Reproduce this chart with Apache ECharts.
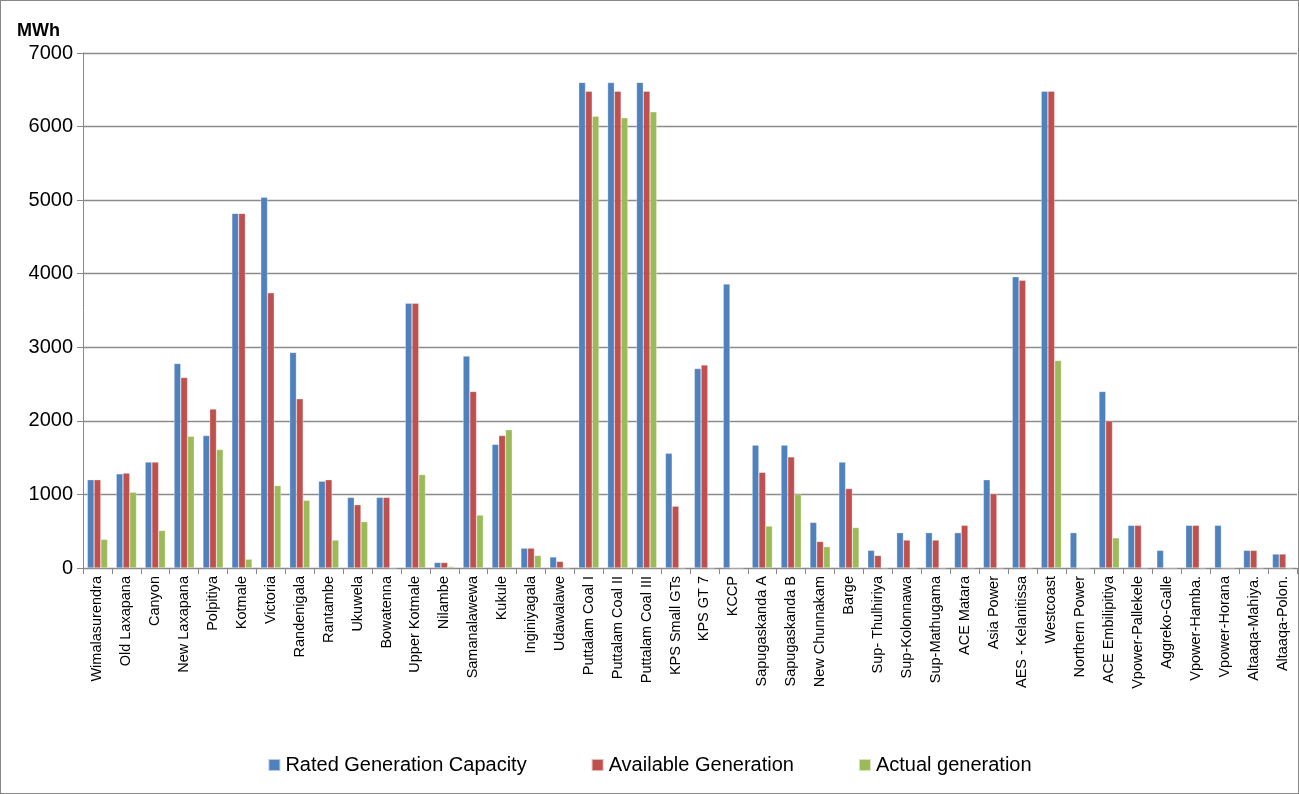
<!DOCTYPE html>
<html><head><meta charset="utf-8">
<script src="https://cdn.jsdelivr.net/npm/echarts@6/dist/echarts.min.js"></script>
<style>html,body{margin:0;padding:0;background:#fff}#c{width:1299px;height:794px;box-sizing:border-box;border:1px solid #888}</style>
</head><body><div id="c"></div>
<script>
const categories = ['Wimalasurendra','Old Laxapana','Canyon','New Laxapana','Polpitiya','Kotmale','Victoria','Randenigala','Rantambe','Ukuwela','Bowatenna','Upper Kotmale','Nilambe','Samanalawewa','Kukule','Inginiyagala','Udawalawe','Puttalam Coal I','Puttalam Coal II','Puttalam Coal III','KPS Small GTs','KPS GT 7','KCCP','Sapugaskanda A','Sapugaskanda B','New Chunnakam','Barge','Sup- Thulhiriya','Sup-Kolonnawa','Sup-Mathugama','ACE Matara','Asia Power','AES - Kelanitissa','Westcoast','Northern Power','ACE Embilipitiya','Vpower-Pallekele','Aggreko-Galle','Vpower-Hamba.','Vpower-Horana','Altaaqa-Mahiya.','Altaaqa-Polon.'];
const rated = [1200,1280,1440,2780,1800,4820,5040,2930,1180,960,960,3600,75,2880,1680,270,150,6600,6600,6600,1560,2710,3860,1670,1670,620,1440,240,480,480,480,1200,3960,6480,480,2400,580,240,580,580,240,190];
const available = [1200,1290,1440,2590,2160,4820,3740,2300,1200,860,960,3600,75,2400,1800,270,90,6480,6480,6480,840,2760,0,1300,1510,360,1080,170,380,380,580,1010,3910,6480,0,2000,580,0,580,0,240,190];
const actual = [390,1030,510,1790,1610,120,1120,920,380,630,0,1270,20,720,1880,170,0,6140,6120,6200,0,0,0,570,1000,290,550,0,0,0,0,0,0,2820,0,410,0,0,0,0,0,0];

const chart = echarts.init(document.getElementById('c'));
const font = 'Liberation Sans';
const bar = (name, data, color) => ({
  name, type: 'bar', data, barGap: '0%', barCategoryGap: '30%',
  itemStyle: { color, borderColor: 'rgba(255,255,255,0.6)', borderWidth: 0.5 }
});
chart.setOption({
  animation: false,
  textStyle: { fontFamily: font },
  title: { text: 'MWh', left: 11, top: 16, textStyle: { fontSize: 18, fontWeight: 'bold', color: '#000', fontFamily: font } },
  legend: {
    bottom: 13, left: 'center', itemWidth: 12, itemHeight: 12, itemGap: 64, icon: 'rect',
    textStyle: { fontSize: 20, color: '#000', fontFamily: font }
  },
  grid: { left: 82, right: 1, top: 52, bottom: 225 },
  xAxis: {
    type: 'category', data: categories,
    axisLine: { lineStyle: { color: '#888' } },
    axisTick: { show: true, length: 6, lineStyle: { color: '#888' } },
    axisLabel: { rotate: 90, interval: 0, fontSize: 14.5, color: '#000', margin: 8 }
  },
  yAxis: {
    type: 'value', min: 0, max: 7000, interval: 1000,
    axisLine: { show: true, lineStyle: { color: '#888' } },
    axisTick: { show: true, length: 6, lineStyle: { color: '#888' } },
    axisLabel: { fontSize: 20, color: '#000', margin: 10, formatter: v => String(v) },
    splitLine: { lineStyle: { color: '#8c8c8c', width: 1.3 } }
  },
  series: [
    bar('Rated Generation Capacity', rated, '#4F81BD'),
    bar('Available Generation', available, '#C0504D'),
    bar('Actual generation', actual, '#9BBB59')
  ]
});
</script></body></html>
